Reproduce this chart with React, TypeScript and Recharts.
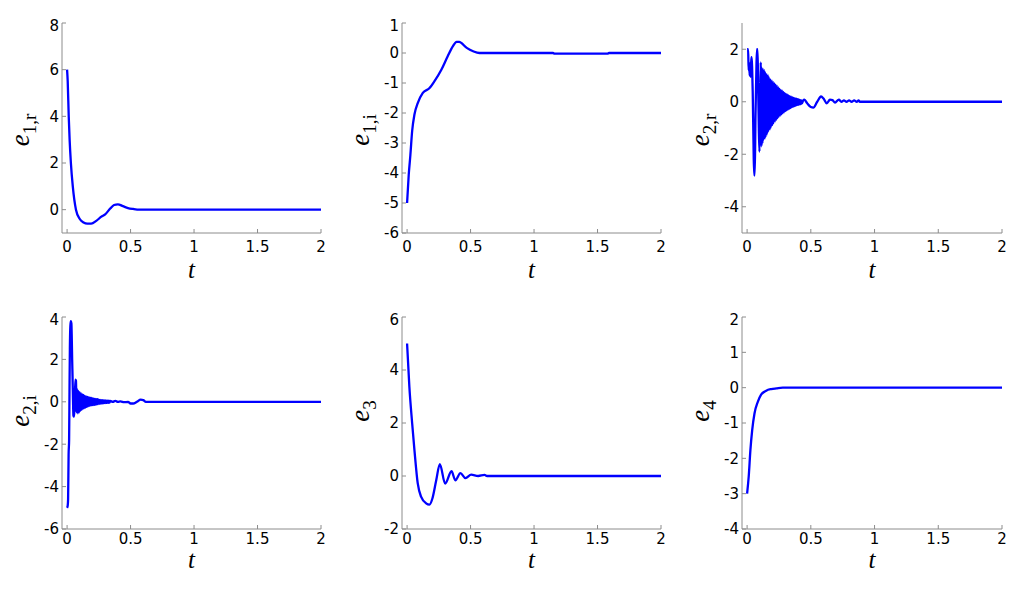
import React from 'react';
import { LineChart, Line, XAxis, YAxis } from 'recharts';

const tTicks = [0, 0.5, 1, 1.5, 2];
const tDomain: [number, number] = [-0.04, 2];

// e_{1,r}
const e1rT = [0, 0.005, 0.013, 0.02, 0.03, 0.045, 0.07, 0.1, 0.13, 0.16, 0.19, 0.23, 0.27, 0.3, 0.34, 0.37, 0.4, 0.44, 0.48, 0.52, 0.57, 2];
const e1rV = [6, 5.5, 4, 3, 2, 1, 0, -0.4, -0.55, -0.6, -0.6, -0.48, -0.3, -0.2, 0.05, 0.2, 0.23, 0.15, 0.07, 0.03, 0, 0];

// e_{1,i}
const e1iT = [0, 0.013, 0.026, 0.04, 0.058, 0.084, 0.124, 0.177, 0.216, 0.27, 0.32, 0.36, 0.39, 0.41, 0.47, 0.52, 0.57, 1.15, 1.16, 1.58, 1.59, 2];
const e1iV = [-5, -4.06, -3.4, -2.6, -2.05, -1.67, -1.33, -1.17, -0.94, -0.56, -0.11, 0.22, 0.37, 0.37, 0.17, 0.06, 0, 0, -0.02, -0.02, 0, 0];

// e_{2,r}
const e2rT = [
  0, 0.008, 0.012, 0.016, 0.02, 0.024, 0.028, 0.033, 0.036, 0.04, 0.044, 0.05, 0.055, 0.06, 0.066, 0.072, 0.077, 0.082,
  0.087, 0.092, 0.097, 0.102, 0.107, 0.112, 0.116, 0.12,
  0.125, 0.13, 0.135, 0.14, 0.145, 0.15, 0.155, 0.16, 0.165, 0.17, 0.175, 0.18, 0.185, 0.19, 0.195, 0.2,
  0.205, 0.21, 0.215, 0.22, 0.225, 0.23, 0.235, 0.24, 0.245, 0.25, 0.255, 0.26, 0.265, 0.27, 0.275, 0.28,
  0.285, 0.29, 0.295, 0.3, 0.305, 0.31, 0.315, 0.32, 0.325, 0.33, 0.335, 0.34, 0.345, 0.35, 0.355, 0.36,
  0.365, 0.37, 0.375, 0.38, 0.385, 0.39, 0.395, 0.4, 0.405, 0.41, 0.415, 0.42, 0.425, 0.43,
  0.44, 0.45, 0.47, 0.5, 0.52, 0.55, 0.58, 0.6, 0.625, 0.65, 0.67, 0.69, 0.72, 0.74, 0.76, 0.78, 0.8, 0.82,
  0.84, 0.86, 0.875, 0.885, 2,
];
const e2rV = [
  2, 2, 1.2, 1.5, 1, 1.4, 0.95, 1.7, 1.7, 1.2, 0.4, -1.5, -2.8, -2.8, -0.5, 1, 2, 2,
  0.5, -1, -1.9, -0.3, 1.5, -1.7, 1.3, -1.6,
  1.25, -1.45, 1.2, -1.4, 1.1, -1.3, 1.05, -1.2, 1, -1.1, 0.9, -1.05, 0.85, -0.95, 0.8, -0.88,
  0.75, -0.8, 0.7, -0.75, 0.65, -0.68, 0.6, -0.63, 0.55, -0.57, 0.5, -0.53, 0.45, -0.48, 0.42, -0.44,
  0.38, -0.4, 0.34, -0.36, 0.3, -0.33, 0.27, -0.3, 0.24, -0.27, 0.21, -0.24, 0.19, -0.21, 0.17, -0.19,
  0.15, -0.17, 0.13, -0.15, 0.12, -0.13, 0.1, -0.12, 0.09, -0.1, 0.07, -0.09, 0.05, -0.06,
  0.05, 0.08, -0.05, -0.2, -0.22, 0, 0.2, 0.12, -0.06, 0.08, 0.06, -0.03, 0.08, 0, 0.05, 0, 0.05, 0,
  0.05, 0, 0.05, 0, 0,
];

// e_{2,i}
const e2iT = [
  0, 0.005, 0.008, 0.012, 0.016, 0.019, 0.022, 0.026, 0.03, 0.034, 0.037, 0.04, 0.043, 0.046, 0.05, 0.055,
  0.06, 0.065, 0.07, 0.075, 0.08, 0.085, 0.09,
  0.095, 0.1, 0.105, 0.11, 0.115, 0.12, 0.125, 0.13, 0.135, 0.14, 0.145, 0.15, 0.155, 0.16, 0.165, 0.17,
  0.175, 0.18, 0.185, 0.19, 0.195, 0.2, 0.205, 0.21, 0.215, 0.22, 0.225, 0.23, 0.235, 0.24, 0.245, 0.25,
  0.255, 0.26, 0.265, 0.27, 0.275, 0.28, 0.285, 0.29, 0.295, 0.3, 0.305, 0.31, 0.315, 0.32, 0.325, 0.33,
  0.335, 0.34,
  0.36, 0.38, 0.4, 0.42, 0.45, 0.48, 0.5, 0.52, 0.55, 0.58, 0.6, 0.62, 2,
];
const e2iV = [
  -5, -4.9, -4.6, -2.5, -1.8, 0.5, 2.5, 3.6, 3.8, 3.7, 3, 2, 1.2, 0.3, -0.65, -0.7,
  -0.2, 1.05, 1, -0.5, 0.6, -0.55, 0.5,
  -0.5, 0.45, -0.42, 0.4, -0.38, 0.35, -0.33, 0.32, -0.3, 0.28, -0.27, 0.25, -0.24, 0.23, -0.21, 0.21,
  -0.19, 0.19, -0.17, 0.18, -0.16, 0.16, -0.15, 0.15, -0.14, 0.14, -0.13, 0.13, -0.12, 0.12, -0.11, 0.1,
  -0.1, 0.09, -0.09, 0.08, -0.08, 0.08, -0.07, 0.07, -0.06, 0.07, -0.06, 0.06, -0.05, 0.05, -0.05, 0.05,
  -0.04, 0.04,
  0, 0.04, 0, 0.02, -0.02, 0, -0.08, -0.08, 0, 0.1, 0.08, 0, 0,
];

// e_3
const e3T = [0, 0.018, 0.04, 0.058, 0.084, 0.11, 0.15, 0.176, 0.2, 0.23, 0.258, 0.3, 0.35, 0.38, 0.42, 0.46, 0.505, 0.56, 0.61, 0.63, 2];
const e3V = [5, 3.37, 1.99, 0.98, -0.28, -0.78, -1.03, -1.08, -0.84, -0.15, 0.45, -0.29, 0.18, -0.16, 0.11, -0.08, 0.05, 0, 0.04, 0, 0];

// e_4
const e4T = [0, 0.013, 0.026, 0.04, 0.058, 0.084, 0.11, 0.15, 0.19, 0.23, 0.28, 2];
const e4V = [-3, -2.5, -1.76, -1.2, -0.73, -0.4, -0.2, -0.085, -0.04, -0.02, 0, 0];

const gray = '#8c8c8c';
const blue = '#0000ff';
const tickFont = { fill: '#000', fontSize: 15, fontFamily: 'DejaVu Sans' };

type PanelProps = {
  t: number[];
  v: number[];
  yDomain: [number, number];
  yTicks: number[];
  sub: string;
  left: number;
  top: number;
  w: number;
  h: number;
  xTickMargin: number;
  tLabelY: number;
  yLabelShift: number;
};

const ML = 70;
const MT = 6;
const MB = 60;
const MR = 6;

function Panel(p: PanelProps) {
  const data = p.t.map((x, i) => ({ t: x, v: p.v[i] }));

  const yLabel = (props: any) => {
    const vb = props.viewBox;
    const x = vb.x + vb.width - 33;
    const y = vb.y + vb.height / 2 + p.yLabelShift;
    return (
      <text transform={`translate(${x},${y}) rotate(-90)`} textAnchor="middle" fontFamily="Liberation Serif" fontSize={27} fill="#000">
        <tspan fontStyle="italic">e</tspan>
        <tspan fontSize={19} dy={7}>{p.sub}</tspan>
      </text>
    );
  };

  const tLabel = (props: any) => {
    const vb = props.viewBox;
    return (
      <text x={vb.x + vb.width / 2} y={vb.y + p.tLabelY} textAnchor="middle" fontFamily="Liberation Serif" fontStyle="italic" fontSize={25} fill="#000">
        t
      </text>
    );
  };

  return (
    <div style={{ position: 'absolute', left: p.left - ML, top: p.top - MT }}>
      <LineChart width={p.w + ML + MR} height={p.h + MT + MB} data={data} margin={{ top: MT, right: MR, bottom: 0, left: 0 }}>
        <XAxis
          xAxisId="b"
          dataKey="t"
          type="number"
          domain={tDomain}
          ticks={tTicks}
          allowDataOverflow
          height={MB}
          axisLine={{ stroke: gray }}
          tickLine={{ stroke: gray }}
          tickSize={-4}
          tickMargin={p.xTickMargin}
          tick={tickFont}
          label={{ content: tLabel }}
        />
        <XAxis
          xAxisId="top"
          orientation="top"
          dataKey="t"
          type="number"
          domain={tDomain}
          ticks={tTicks}
          allowDataOverflow
          height={0}
          axisLine={{ stroke: gray }}
          tickLine={{ stroke: gray }}
          tickSize={-4}
          tick={false}
        />
        <YAxis
          yAxisId="l"
          type="number"
          domain={p.yDomain}
          ticks={p.yTicks}
          allowDataOverflow
          width={ML}
          axisLine={{ stroke: gray }}
          tickLine={{ stroke: gray }}
          tickSize={-4}
          tickMargin={7}
          tick={tickFont}
          label={{ content: yLabel }}
        />
        <YAxis
          yAxisId="r"
          orientation="right"
          type="number"
          domain={p.yDomain}
          ticks={p.yTicks}
          allowDataOverflow
          width={0}
          axisLine={{ stroke: gray }}
          tickLine={{ stroke: gray }}
          tickSize={-4}
          tick={false}
        />
        <Line
          xAxisId="b"
          yAxisId="l"
          type="monotone"
          dataKey="v"
          stroke={blue}
          strokeWidth={2.3}
          dot={false}
          isAnimationActive={false}
        />
      </LineChart>
    </div>
  );
}

export default function App() {
  const row1 = { top: 23, h: 210, xTickMargin: 12, tLabelY: 45, yLabelShift: 2 };
  const row2 = { top: 317, h: 212, xTickMargin: 8, tLabelY: 39, yLabelShift: -12 };
  return (
    <div style={{ position: 'absolute', left: 0, top: 0, width: 1024, height: 589, background: '#fff' }}>
      <Panel t={e1rT} v={e1rV} yDomain={[-1, 8]} yTicks={[0, 2, 4, 6, 8]} sub="1,r" left={62} w={259} {...row1} />
      <Panel t={e1iT} v={e1iV} yDomain={[-6, 1]} yTicks={[-6, -5, -4, -3, -2, -1, 0, 1]} sub="1,i" left={402} w={259} {...row1} />
      <Panel t={e2rT} v={e2rV} yDomain={[-5, 3]} yTicks={[-4, -2, 0, 2]} sub="2,r" left={742} w={260} {...row1} />
      <Panel t={e2iT} v={e2iV} yDomain={[-6, 4]} yTicks={[-6, -4, -2, 0, 2, 4]} sub="2,i" left={62} w={259} {...row2} />
      <Panel t={e3T} v={e3V} yDomain={[-2, 6]} yTicks={[-2, 0, 2, 4, 6]} sub="3" left={402} w={259} {...row2} />
      <Panel t={e4T} v={e4V} yDomain={[-4, 2]} yTicks={[-4, -3, -2, -1, 0, 1, 2]} sub="4" left={742} w={260} {...row2} />
    </div>
  );
}
